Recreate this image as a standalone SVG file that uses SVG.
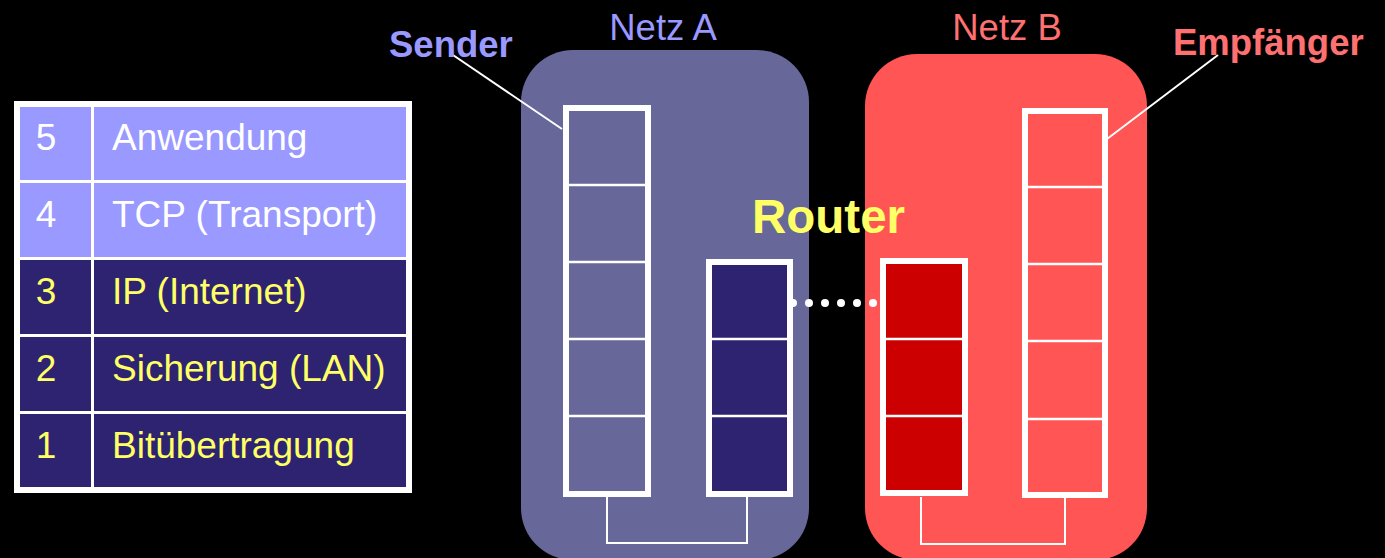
<svg xmlns="http://www.w3.org/2000/svg" width="1385" height="558" viewBox="0 0 1385 558">
<style>
.t{font-family:"Liberation Sans",Arial,sans-serif;font-size:37px}
.lt{fill:#ffffff}
.dk{fill:#ffff66}
.light{fill:#9999ff}
.dark{fill:#2e2370}
.frame{stroke:#ffffff;stroke-width:6}
.div{stroke:#ffffff;stroke-width:2.5}
.lbl{font-family:"Liberation Sans",Arial,sans-serif;font-size:36.5px}
.b{font-weight:bold}
.conn{fill:none;stroke:#ffffff;stroke-width:2}
</style>
<rect width="1385" height="558" fill="#000000"/>
<g id="legend">
<rect x="14" y="101" width="398" height="392" fill="#ffffff"/>
<rect class="light" x="20" y="107" width="71" height="73"/><rect class="light" x="94" y="107" width="312" height="73"/>
<rect class="light" x="20" y="183" width="71" height="74"/><rect class="light" x="94" y="183" width="312" height="74"/>
<rect class="dark" x="20" y="260" width="71" height="74"/><rect class="dark" x="94" y="260" width="312" height="74"/>
<rect class="dark" x="20" y="337" width="71" height="74"/><rect class="dark" x="94" y="337" width="312" height="74"/>
<rect class="dark" x="20" y="414" width="71" height="73"/><rect class="dark" x="94" y="414" width="312" height="73"/>
<text class="t lt" x="46" y="150" text-anchor="middle">5</text><text class="t lt" x="112" y="150">Anwendung</text>
<text class="t lt" x="46" y="227" text-anchor="middle">4</text><text class="t lt" x="112" y="227">TCP (Transport)</text>
<text class="t dk" x="46" y="304" text-anchor="middle">3</text><text class="t dk" x="112" y="304">IP (Internet)</text>
<text class="t dk" x="46" y="381" text-anchor="middle">2</text><text class="t dk" x="112" y="381">Sicherung (LAN)</text>
<text class="t dk" x="46" y="458" text-anchor="middle">1</text><text class="t dk" x="112" y="458">Bitübertragung</text>
</g>
<g id="netzA">
<rect x="521" y="50" width="288" height="510" rx="52" fill="#676799"/>
<text class="lbl" x="663" y="40" text-anchor="middle" fill="#9999ff">Netz A</text>
</g>
<g id="netzB">
<rect x="865" y="54" width="282" height="506" rx="52" fill="#ff5555"/>
<text class="lbl" x="1007" y="40" text-anchor="middle" fill="#ff7070">Netz B</text>
</g>
<g id="connectors">
<polyline class="conn" points="607,497 607,543 747,543 747,497"/>
<polyline class="conn" points="921,497 921,544 1065,544 1065,497"/>
<line class="conn" x1="450" y1="53" x2="562" y2="129"/>
<line class="conn" x1="1218" y1="55" x2="1107" y2="139"/>
<g fill="#ffffff">
<circle cx="793" cy="303" r="4"/><circle cx="809" cy="303" r="4"/><circle cx="825" cy="303" r="4"/><circle cx="841" cy="303" r="4"/><circle cx="857" cy="303" r="4"/><circle cx="873" cy="303" r="4"/>
</g>
</g>
<g id="sender">
<rect class="frame" x="566" y="108" width="82" height="386" fill="#676799"/>
<line class="div" x1="569" y1="185" x2="645" y2="185"/>
<line class="div" x1="569" y1="262" x2="645" y2="262"/>
<line class="div" x1="569" y1="339" x2="645" y2="339"/>
<line class="div" x1="569" y1="416" x2="645" y2="416"/>
<text class="lbl b" x="389" y="57" fill="#9999ff">Sender</text>
</g>
<g id="routerA">
<rect class="frame" x="709" y="262" width="81" height="232" fill="#2e2370"/>
<line class="div" x1="712" y1="339" x2="787" y2="339"/>
<line class="div" x1="712" y1="416" x2="787" y2="416"/>
</g>
<g id="routerB">
<rect class="frame" x="883" y="261" width="82" height="232" fill="#cc0000"/>
<line class="div" x1="886" y1="339" x2="962" y2="339"/>
<line class="div" x1="886" y1="416" x2="962" y2="416"/>
</g>
<g id="router-label">
<text class="b" x="752" y="233" font-family="'Liberation Sans',Arial,sans-serif" font-size="47.5" fill="#ffff66">Router</text>
</g>
<g id="empfaenger">
<rect class="frame" x="1025" y="111" width="80" height="384" fill="#ff5555"/>
<line class="div" x1="1028" y1="187" x2="1102" y2="187"/>
<line class="div" x1="1028" y1="264" x2="1102" y2="264"/>
<line class="div" x1="1028" y1="341" x2="1102" y2="341"/>
<line class="div" x1="1028" y1="419" x2="1102" y2="419"/>
<text class="lbl b" x="1173" y="55" fill="#ff7070">Empfänger</text>
</g>
</svg>
